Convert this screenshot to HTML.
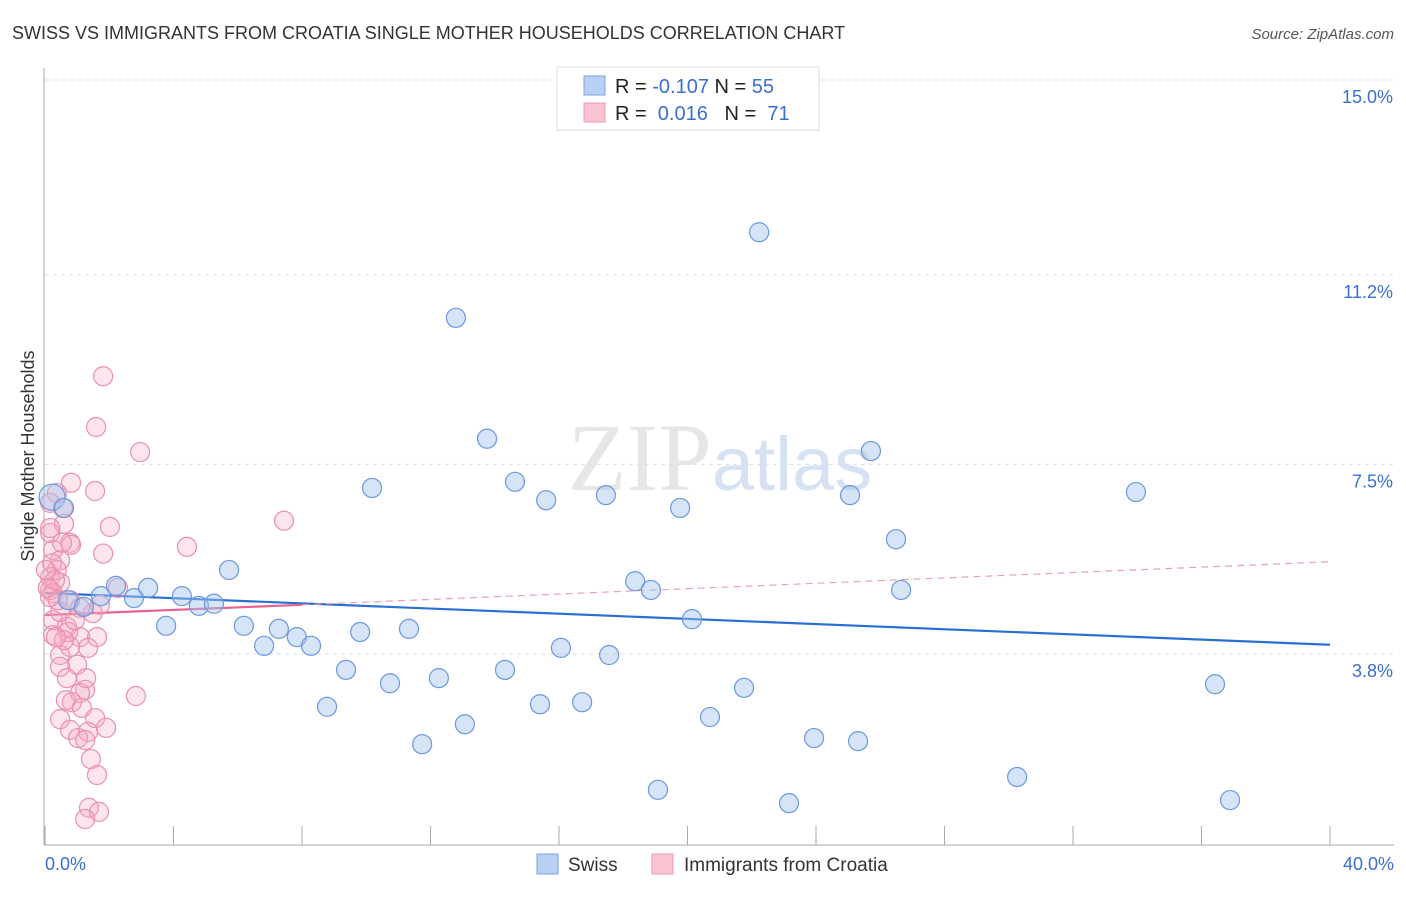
<!DOCTYPE html>
<html><head><meta charset="utf-8"><style>
body{margin:0;background:#fff;font-family:"Liberation Sans",sans-serif}
</style></head><body>
<svg id="chart" width="1406" height="892" xmlns="http://www.w3.org/2000/svg" style="font-family:'Liberation Sans',sans-serif">
<text x="12" y="39" font-size="18" fill="#333">SWISS VS IMMIGRANTS FROM CROATIA SINGLE MOTHER HOUSEHOLDS CORRELATION CHART</text>
<text x="1394" y="39" font-size="15" fill="#555" text-anchor="end" font-style="italic">Source: ZipAtlas.com</text>
<text x="720" y="490" font-size="96" text-anchor="middle" fill="#e6e6e6" font-family="Liberation Serif,serif">ZIP<tspan fill="#d6e2f4" font-family="Liberation Sans,sans-serif" font-size="76">atlas</tspan></text>
<text transform="translate(34,456) rotate(-90)" font-size="18" fill="#333" text-anchor="middle">Single Mother Households</text>
<g id="grid"></g><g id="axes"></g><g id="trend"></g><g id="pts"></g>
<g>
<rect x="557" y="67" width="262" height="63" fill="#fff" stroke="#ddd"/>
<rect x="584" y="76" width="21" height="19" fill="#b8d0f4" stroke="#7aa3e0"/>
<rect x="584" y="103" width="21" height="19" fill="#f9c5d3" stroke="#ec98b2"/>
<text x="615" y="93" font-size="20" fill="#222">R = <tspan fill="#3a6fd0">-0.107</tspan>   N = <tspan fill="#3a6fd0">55</tspan></text>
<text x="615" y="120" font-size="20" fill="#222" xml:space="preserve">R =  <tspan fill="#3a6fd0">0.016</tspan>   N =  <tspan fill="#3a6fd0">71</tspan></text>
</g>
<g>
<rect x="537" y="854" width="21" height="20" fill="#b8d0f4" stroke="#7aa3e0"/>
<text x="568" y="871" font-size="19" fill="#333">Swiss</text>
<rect x="652" y="854" width="21" height="20" fill="#f9c5d3" stroke="#ec98b2"/>
<text x="684" y="871" font-size="19" fill="#333">Immigrants from Croatia</text>
</g>
</svg>
<script>
const yTicks=[15.0,11.2,7.5,3.8];
const yTickLabels=["15.0%","11.2%","7.5%","3.8%"];
const xTicks=[0,4,8,12,16,20,24,28,32,36,40];
const xEndLabels=["0.0%","40.0%"];
const swissX=[.22,.59,.72,1.21,1.74,2.21,2.77,3.21,3.77,4.26,4.79,5.26,5.73,6.19,6.82,7.28,7.84,8.28,8.78,9.37,9.81,10.18,10.74,11.33,11.74,12.26,12.79,13.07,13.76,14.32,14.63,15.41,15.6,16.06,16.72,17.46,17.56,18.37,18.86,19.08,19.77,20.14,20.7,21.76,22.23,23.16,23.94,25.06,25.31,25.71,26.49,26.65,30.26,33.96,36.42,36.89];
const swissY=[6.86,6.65,4.85,4.72,4.93,5.13,4.89,5.09,4.35,4.93,4.74,4.78,5.44,4.35,3.96,4.29,4.13,3.96,2.77,3.49,4.23,7.04,3.23,4.29,2.04,3.33,10.36,2.43,8.0,3.49,7.16,2.82,6.8,3.92,2.86,6.9,3.78,5.22,5.05,1.15,6.65,4.48,2.57,3.14,12.03,0.89,2.16,6.9,2.1,7.76,6.04,5.05,1.40,6.96,3.21,0.95];
const croX=[1.81,1.59,2.96,.81,1.56,.37,.16,.56,.59,.16,2.02,4.42,7.44,.78,.81,1.81,.25,.47,.22,.37,.16,.47,.16,.25,2.27,.78,1.49,1.71,1.09,.25,.68,1.09,1.62,.25,.72,.78,1.34,.47,1.0,.47,.68,1.25,1.09,.84,2.83,1.15,1.56,.47,1.9,.78,1.34,1.03,1.25,1.43,1.62,1.37,1.68,1.25,.16,.31,.09,.47,.59,.03,.93,.4,.53,1.28,.65,.34,.16];
const croY=[9.22,8.23,7.74,7.14,6.98,6.94,6.75,6.65,6.34,6.16,6.28,5.89,6.40,5.97,5.93,5.76,5.83,5.63,5.57,5.44,5.30,5.19,5.05,4.99,5.09,4.85,4.60,4.76,4.70,4.46,4.33,4.13,4.13,4.17,4.23,3.94,3.92,3.78,3.59,3.55,3.33,3.10,3.04,2.86,2.98,2.75,2.55,2.53,2.36,2.32,2.28,2.16,2.12,1.75,1.44,0.8,0.72,0.58,4.91,5.24,5.09,4.62,4.07,5.44,4.46,4.85,5.97,3.33,2.90,4.13,6.26];
const swissTrend=[[0,4.99],[40,3.98]];
const croTrendSolid=[[0,4.56],[8,4.76]];
const croTrendDash=[[8,4.76],[40,5.6]];
const NS="http://www.w3.org/2000/svg";
const X=v=>45+v/40*1285, Y=v=>80+(15-v)*51.25;
function mk(tag,attrs,parent){const e=document.createElementNS(NS,tag);for(const k in attrs)e.setAttribute(k,attrs[k]);document.getElementById(parent).appendChild(e);return e;}
yTicks.forEach((t,i)=>{
 const g=mk('line',{x1:45,x2:1394,y1:Y(t),y2:Y(t),stroke:'#ddd','stroke-dasharray':'4,4'},'grid');
 
 
 const l=mk('text',{x:1393,y:Y(t)+23,'font-size':18,fill:'#3a6fd0','text-anchor':'end'},'grid');
 l.textContent=yTickLabels[i];
 
 
});
const ya=mk('line',{x1:44,x2:44,y1:68,y2:845,stroke:'#aaa'},'axes');


const xa=mk('line',{x1:44,x2:1394,y1:845,y2:845,stroke:'#aaa'},'axes');


xTicks.forEach(t=>{
 const tk=mk('line',{x1:X(t),x2:X(t),y1:826,y2:845,stroke:'#aaa'},'axes');
 
 
});
[[0,'start',45],[40,'end',1394]].forEach((a,i)=>{
 const l=mk('text',{x:a[2],y:870,'font-size':18,fill:'#3a6fd0','text-anchor':a[1]},'axes');
 l.textContent=xEndLabels[i];
 
 
});
function tl(p,col,w,dash,name){const e=mk('line',{x1:X(p[0][0]),y1:Y(p[0][1]),x2:X(p[1][0]),y2:Y(p[1][1]),stroke:col,'stroke-width':w},'trend');if(dash)e.setAttribute('stroke-dasharray',dash);
 
 }
tl(swissTrend,'#2a6fd6',2.2,null,'swiss-trend-line');
tl(croTrendSolid,'#e8628e',2.2,null,'croatia-trend-line');
tl(croTrendDash,'#e8a0b8',1.2,'7,5','croatia-trend-extension');
croX.forEach((x,i)=>{
 const c=mk('circle',{cx:X(x),cy:Y(croY[i]),r:9.5,fill:'rgba(246,170,196,0.3)',stroke:'#ea8fad','stroke-width':1.2},'pts');
 
 
});
swissX.forEach((x,i)=>{
 const c=mk('circle',{cx:X(x),cy:Y(swissY[i]),r:i==0?13:9.5,fill:'rgba(164,196,240,0.45)',stroke:'#6b98de','stroke-width':1.2},'pts');
 
 
});
</script>
</body></html>
